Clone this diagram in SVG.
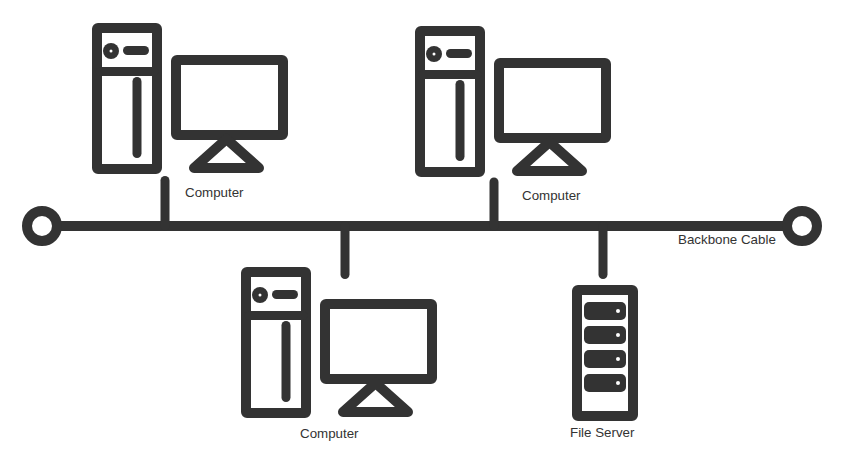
<svg xmlns="http://www.w3.org/2000/svg" width="850" height="472" viewBox="0 0 850 472">
<style>
.o{fill:none;stroke:#333;stroke-width:10;stroke-linejoin:round;stroke-linecap:round}
.t{fill:none;stroke:#333;stroke-width:9;stroke-linecap:round}
.c{fill:none;stroke:#333;stroke-width:9;stroke-linecap:round}
.f{fill:#333}
.w{fill:#fff}
text{font-family:"Liberation Sans",Arial,sans-serif;font-size:13.330px;fill:#333}
</style>
<defs>
<g id="pc">
<rect class="o" x="97" y="28" width="60" height="141" rx="1"/>
<path class="t" d="M100 71.500H154"/>
<circle class="f" cx="111" cy="51" r="8"/>
<circle class="w" cx="111" cy="51" r="1.500"/>
<path class="t" d="M127.500 50.500H144.500"/>
<path class="t" d="M137 81.500V153.500"/>
<rect class="o" x="176" y="60" width="107" height="75" rx="1"/>
<path class="o" d="M226.500 139L194 168H259Z"/>
</g>
</defs>
<rect width="850" height="472" fill="#fff"/>
<g id="connectors">
<path d="M57 226H787" fill="none" stroke="#333" stroke-width="10"/>
<path class="c" d="M165 226V180.500"/>
<path class="c" d="M494 226V182"/>
<path class="c" d="M345 226V274.500"/>
<path class="c" d="M603 226V274.500"/>
</g>
<g id="end-left"><circle cx="42" cy="226" r="15" fill="#fff" stroke="#333" stroke-width="10"/></g>
<g id="end-right"><circle cx="802" cy="226" r="15" fill="#fff" stroke="#333" stroke-width="10"/></g>
<g id="computer-1"><use href="#pc"/><text x="185" y="197">Computer</text></g>
<g id="computer-2"><use href="#pc" transform="translate(323 3)"/><text x="522" y="200">Computer</text></g>
<g id="computer-3"><use href="#pc" transform="translate(149 244)"/><text x="300" y="438">Computer</text></g>
<g id="file-server">
<rect class="o" x="577" y="290" width="56" height="126" rx="1"/>
<rect class="f" x="584" y="302" width="42" height="18" rx="5"/>
<rect class="f" x="584" y="326" width="42" height="18" rx="5"/>
<rect class="f" x="584" y="350" width="42" height="18" rx="5"/>
<rect class="f" x="584" y="374" width="42" height="18" rx="5"/>
<circle class="w" cx="618" cy="311" r="2"/>
<circle class="w" cx="618" cy="335" r="2"/>
<circle class="w" cx="618" cy="359" r="2"/>
<circle class="w" cx="618" cy="383" r="2"/>
<text x="570" y="437">File Server</text>
</g>
<g id="backbone-label"><text x="678" y="244">Backbone Cable</text></g>
</svg>
